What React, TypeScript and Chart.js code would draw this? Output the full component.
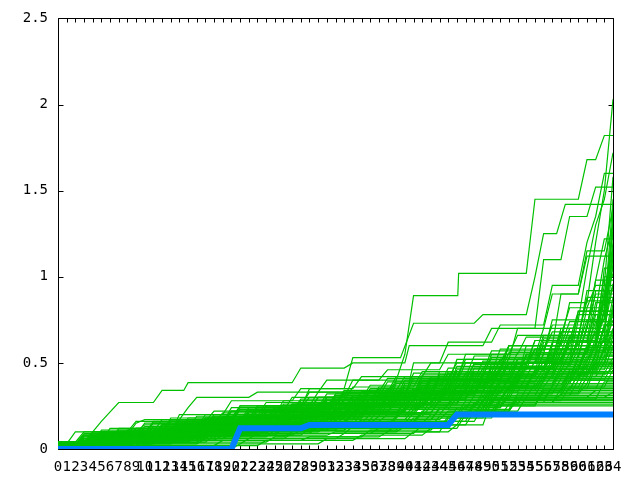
import React, { useEffect, useRef } from "react";
import { Chart, registerables } from "chart.js";

Chart.register(...registerables);

// Each series: flat list of vertices [x, y, x, y, ...]
const blueSeries: number[] = [0, 0, 20, 0, 21, 0.12, 28, 0.12, 29, 0.14, 45, 0.14, 46, 0.2, 64, 0.2];

const peakSeries: number[][] = [
  [0,.03, 3,.03, 4,.1, 8,.1, 9,.16, 17,.16, 18,.22, 26,.22, 27,.3, 33,.3, 34,.4, 39,.4, 40,.55, 41,.89, 46.1,.89, 46.2,1.02, 54,1.02, 55,1.45, 60,1.45, 61,1.68, 62,1.68, 63,1.82, 64,1.82],
  [0,.02, 6,.02, 7,.08, 15,.08, 16,.15, 24,.15, 25,.24, 37,.24, 38,.33, 47,.33, 48,.45, 55,.45, 56,.62, 58,.62, 59,.85, 61,.85, 62,1.2, 63,1.5, 64,2.03],
  [0,.01, 4,.01, 5,.07, 14,.07, 15,.14, 22,.14, 23,.2, 31,.2, 32,.28, 40,.28, 41,.5, 44,.5, 45,.62, 50,.62, 51,.72, 56,.72, 57,.95, 60,.95, 61,1.2, 62,1.35, 63,1.6, 64,1.6],
  [0,.03, 5,.03, 6,.09, 19,.09, 20,.17, 29,.17, 30,.26, 38,.26, 39,.38, 45,.38, 46,.52, 52,.52, 53,.7, 55,.7, 56,1.1, 58,1.1, 59,1.35, 61,1.35, 62,1.52, 64,1.52],
  [0,.02, 2,.02, 3,.06, 11,.06, 12,.13, 21,.13, 22,.21, 30,.21, 31,.3, 41,.3, 42,.42, 49,.42, 50,.55, 56,.55, 57,.75, 60,.75, 61,1.05, 62,1.3, 63,1.45, 64,1.72],
  [0,0, 7,0, 8,.05, 16,.05, 17,.12, 25,.12, 26,.2, 35,.2, 36,.3, 44,.3, 45,.4, 53,.4, 54,.55, 59,.55, 60,.8, 62,.8, 63,1.1, 64,1.3],
  [0,.03, 4,.03, 5,.09, 10,.09, 11,.15, 19,.15, 20,.24, 28,.24, 29,.35, 33,.35, 34,.53, 39.5,.53, 41,.73, 48,.73, 49,.78, 54,.78, 55,1.0, 56,1.25, 57.5,1.25, 58.5,1.42, 64,1.42],
  [0,.01, 9,.01, 10,.06, 18,.06, 19,.14, 27,.14, 28,.2, 36,.2, 37,.3, 43,.3, 44,.45, 51,.45, 52,.6, 57,.6, 58,.9, 60,.9, 61,1.15, 63,1.15, 64,1.4],
  [0,.03, 1,.03, 2,.1, 4,.1, 5,.16, 7,.27, 11,.27, 12,.34, 14.5,.34, 15,.385, 27,.385, 28,.47, 33,.47, 34,.5, 40,.5, 40.5,.6, 49,.6, 50,.7, 56,.7, 57,.9, 60,.9, 61,1.12, 64,1.12],
  [0,.02, 3,.02, 4,.08, 8,.08, 9,.15, 10,.17, 14,.17, 15,.24, 16,.3, 22,.3, 23,.33, 30,.33, 31,.4, 37,.4, 38,.46, 44,.46, 45,.55, 52,.55, 53,.66, 58,.66, 59,.82, 63,.82, 64,1.2],
  [0,.03, 2,.03, 3,.09, 13,.09, 14,.2, 19,.2, 20,.28, 27,.28, 28,.35, 34,.35, 35,.42, 42,.42, 43,.5, 51,.5, 52,.6, 58,.6, 59,.74, 64,.74],
  [0,.02, 5,.02, 6,.09, 14,.09, 15,.16, 24,.16, 25,.23, 33,.23, 34,.31, 42,.31, 43,.4, 51,.4, 52,.5, 58,.5, 59,.65, 62,.65, 63,.95, 64,1.58],
  [0,.03, 4,.03, 5,.1, 11,.1, 12,.17, 20,.17, 21,.25, 29,.25, 30,.33, 38,.33, 39,.42, 47,.42, 48,.54, 55,.54, 56,.7, 61,.7, 62,.98, 63,1.22, 64,1.22],
  [0,.01, 3,.01, 4,.07, 13,.07, 14,.13, 22,.13, 23,.2, 31,.2, 32,.27, 41,.27, 42,.36, 49,.36, 50,.47, 56,.47, 57,.58, 62,.58, 63,.8, 64,1.45],
];

const highSeries: number[][] = [
  [0,.02, 5,.02, 6,.07, 13,.07, 14,.13, 21,.13, 22,.2, 30,.2, 31,.27, 39,.27, 40,.36, 47,.36, 48,.47, 56,.47, 57,.6, 61,.6, 62,.85, 64,.85],
  [0,.01, 3,.01, 4,.05, 12,.05, 13,.11, 24,.11, 25,.19, 33,.19, 34,.28, 42,.28, 43,.4, 52,.4, 53,.52, 59,.52, 60,.75, 63,.75, 64,1.12],
  [0,.03, 6,.03, 7,.1, 16,.1, 17,.18, 26,.18, 27,.26, 36,.26, 37,.35, 45,.35, 46,.46, 54,.46, 55,.58, 60,.58, 61,.82, 62,.95, 64,.95],
  [0,.02, 8,.02, 9,.08, 18,.08, 19,.15, 28,.15, 29,.22, 40,.22, 41,.33, 49,.33, 50,.5, 57,.5, 58,.66, 62,.66, 63,.9, 64,1.25],
  [0,.04, 4,.04, 5,.1, 14,.1, 15,.17, 23,.17, 24,.25, 32,.25, 33,.33, 44,.33, 45,.45, 51,.45, 52,.56, 58,.56, 59,.7, 61,.7, 62,.98, 64,.98],
  [0,.01, 2,.01, 3,.04, 10,.04, 11,.1, 20,.1, 21,.17, 31,.17, 32,.24, 38,.24, 39,.32, 48,.32, 49,.43, 55,.43, 56,.55, 61,.55, 62,.7, 63,.88, 64,1.05],
  [0,.02, 7,.02, 8,.09, 15,.09, 16,.16, 25,.16, 26,.23, 34,.23, 35,.31, 43,.31, 44,.42, 53,.42, 54,.6, 59,.6, 60,.78, 64,.78],
  [0,.03, 5,.03, 6,.08, 11,.08, 12,.14, 19,.14, 20,.22, 29,.22, 30,.3, 41,.3, 42,.4, 50,.4, 51,.52, 57,.52, 58,.68, 63,.68, 64,1.18],
  [0,.02, 9,.02, 10,.07, 17,.07, 18,.13, 27,.13, 28,.21, 37,.21, 38,.3, 46,.3, 47,.41, 56,.41, 57,.53, 60,.53, 61,.72, 62,.9, 64,.9],
  [0,.01, 4,.01, 5,.06, 13,.06, 14,.12, 22,.12, 23,.19, 32,.19, 33,.27, 42,.27, 43,.37, 49,.37, 50,.48, 58,.48, 59,.63, 62,.63, 63,.8, 64,1.32],
  [0,.03, 3,.03, 4,.09, 12,.09, 13,.16, 21,.16, 22,.24, 28,.24, 29,.3, 37,.3, 38,.39, 46,.39, 47,.5, 55,.5, 56,.64, 60,.64, 61,.92, 64,.92],
  [0,.02, 6,.02, 7,.07, 16,.07, 17,.14, 24,.14, 25,.21, 34,.21, 35,.29, 44,.29, 45,.38, 52,.38, 53,.5, 59,.5, 60,.66, 63,.66, 64,1.08],
  [0,0, 5,0, 6,.05, 14,.05, 15,.12, 23,.12, 24,.2, 33,.2, 34,.28, 41,.28, 42,.37, 50,.37, 51,.47, 57,.47, 58,.62, 61,.62, 62,.8, 64,.8],
  [0,.04, 7,.04, 8,.11, 18,.11, 19,.19, 27,.19, 28,.27, 35,.27, 36,.35, 45,.35, 46,.48, 54,.48, 55,.63, 62,.63, 63,.86, 64,1.02],
  [0,.02, 2,.02, 3,.08, 9,.08, 10,.15, 20,.15, 21,.23, 31,.23, 32,.32, 40,.32, 41,.44, 50,.44, 51,.58, 56,.58, 57,.72, 64,.72],
  [0,.01, 8,.01, 9,.06, 17,.06, 18,.11, 26,.11, 27,.18, 35,.18, 36,.26, 45,.26, 46,.36, 54,.36, 55,.46, 60,.46, 61,.6, 63,.6, 64,.84],
];

const upperMidSeries: number[][] = [
  [0,.03, 3,.03, 4,.09, 10,.09, 11,.15, 18,.15, 19,.21, 27,.21, 28,.28, 36,.28, 37,.36, 44,.36, 45,.44, 53,.44, 54,.55, 60,.55, 61,.7, 63,.7, 64,.95],
  [0,.02, 5,.02, 6,.1, 12,.1, 13,.16, 20,.16, 21,.23, 29,.23, 30,.3, 38,.3, 39,.39, 47,.39, 48,.5, 55,.5, 56,.6, 62,.6, 63,.82, 64,1.15],
  [0,.04, 2,.04, 3,.1, 9,.1, 10,.14, 17,.14, 18,.2, 25,.2, 26,.26, 34,.26, 35,.33, 42,.33, 43,.42, 50,.42, 51,.52, 58,.52, 59,.66, 64,.66],
  [0,.01, 4,.01, 5,.08, 11,.08, 12,.13, 19,.13, 20,.19, 26,.19, 27,.25, 35,.25, 36,.34, 45,.34, 46,.45, 52,.45, 53,.56, 61,.56, 62,.78, 64,.78],
  [0,.03, 6,.03, 7,.11, 14,.11, 15,.18, 22,.18, 23,.24, 32,.24, 33,.32, 41,.32, 42,.43, 49,.43, 50,.53, 57,.53, 58,.7, 62,.7, 63,1.0, 64,1.0],
  [0,.02, 3,.02, 4,.07, 11,.07, 12,.14, 21,.14, 22,.22, 30,.22, 31,.29, 39,.29, 40,.38, 48,.38, 49,.47, 56,.47, 57,.62, 63,.62, 64,.88],
  [0,.02, 7,.02, 8,.1, 16,.1, 17,.17, 24,.17, 25,.24, 33,.24, 34,.31, 43,.31, 44,.4, 51,.4, 52,.5, 59,.5, 60,.64, 62,.64, 63,.76, 64,1.28],
  [0,.03, 4,.03, 5,.11, 13,.11, 14,.17, 22,.17, 23,.25, 31,.25, 32,.31, 40,.31, 41,.41, 47,.41, 48,.49, 54,.49, 55,.58, 61,.58, 62,.74, 64,.74],
  [0,.01, 2,.01, 3,.06, 8,.06, 9,.12, 16,.12, 17,.18, 24,.18, 25,.23, 33,.23, 34,.3, 41,.3, 42,.37, 50,.37, 51,.46, 57,.46, 58,.58, 61,.58, 62,.68, 64,.68],
  [0,.04, 5,.04, 6,.12, 15,.12, 16,.19, 23,.19, 24,.27, 32,.27, 33,.34, 39,.34, 40,.42, 46,.42, 47,.52, 55,.52, 56,.66, 60,.66, 61,.86, 64,.86],
  [0,.02, 6,.02, 7,.08, 13,.08, 14,.14, 21,.14, 22,.2, 28,.2, 29,.27, 37,.27, 38,.35, 46,.35, 47,.44, 53,.44, 54,.54, 62,.54, 63,.64, 64,1.38],
  [0,.03, 3,.03, 4,.1, 12,.1, 13,.18, 20,.18, 21,.25, 28,.25, 29,.33, 37,.33, 38,.41, 45,.41, 46,.5, 54,.5, 55,.63, 59,.63, 60,.8, 64,.8],
  [0,.01, 5,.01, 6,.07, 14,.07, 15,.13, 23,.13, 24,.2, 31,.2, 32,.28, 40,.28, 41,.35, 49,.35, 50,.45, 56,.45, 57,.57, 63,.57, 64,.7],
  [0,.02, 4,.02, 5,.09, 10,.09, 11,.16, 19,.16, 20,.22, 27,.22, 28,.29, 35,.29, 36,.37, 44,.37, 45,.47, 51,.47, 52,.6, 60,.6, 61,.75, 63,.75, 64,.96],
  [0,.03, 8,.03, 9,.12, 17,.12, 18,.18, 26,.18, 27,.26, 34,.26, 35,.33, 42,.33, 43,.41, 51,.41, 52,.53, 58,.53, 59,.62, 64,.62],
  [0,.02, 2,.02, 3,.08, 10,.08, 11,.13, 18,.13, 19,.19, 26,.19, 27,.24, 36,.24, 37,.32, 45,.32, 46,.42, 54,.42, 55,.51, 61,.51, 62,.6, 63,.9, 64,1.1],
  [0,.04, 6,.04, 7,.12, 16,.12, 17,.2, 25,.2, 26,.28, 33,.28, 34,.36, 41,.36, 42,.45, 49,.45, 50,.57, 56,.57, 57,.68, 64,.68],
  [0,.01, 3,.01, 4,.06, 11,.06, 12,.11, 20,.11, 21,.18, 30,.18, 31,.26, 38,.26, 39,.34, 47,.34, 48,.43, 55,.43, 56,.56, 62,.56, 63,.72, 64,.72],
  [0,.03, 5,.03, 6,.1, 13,.1, 14,.16, 22,.16, 23,.23, 30,.23, 31,.3, 39,.3, 40,.4, 48,.4, 49,.51, 57,.51, 58,.63, 61,.63, 62,.92, 64,.92],
  [0,.02, 7,.02, 8,.09, 15,.09, 16,.15, 23,.15, 24,.22, 32,.22, 33,.29, 41,.29, 42,.39, 50,.39, 51,.48, 59,.48, 60,.58, 63,.58, 64,.82],
  [0,.02, 4,.02, 5,.1, 12,.1, 13,.17, 20,.17, 21,.24, 30,.24, 31,.32, 38,.32, 39,.4, 46,.4, 47,.55, 53,.55, 54,.65, 60,.65, 61,.88, 64,.88],
  [0,.03, 2,.03, 3,.07, 9,.07, 10,.13, 17,.13, 18,.19, 27,.19, 28,.26, 35,.26, 36,.34, 43,.34, 44,.43, 52,.43, 53,.52, 58,.52, 59,.6, 62,.6, 63,1.05, 64,1.05],
];

const midSeries: number[][] = [
  [0,.02, 4,.02, 5,.06, 11,.06, 12,.1, 19,.1, 20,.16, 29,.16, 30,.22, 38,.22, 39,.29, 47,.29, 48,.37, 57,.37, 58,.46, 62,.46, 63,.58, 64,.58],
  [0,.01, 3,.01, 4,.05, 10,.05, 11,.09, 18,.09, 19,.14, 27,.14, 28,.2, 36,.2, 37,.27, 46,.27, 47,.34, 55,.34, 56,.42, 61,.42, 62,.52, 64,.52],
  [0,.03, 6,.03, 7,.08, 14,.08, 15,.13, 23,.13, 24,.19, 32,.19, 33,.25, 41,.25, 42,.32, 51,.32, 52,.41, 59,.41, 60,.55, 64,.55],
  [0,.02, 2,.02, 3,.07, 9,.07, 10,.12, 17,.12, 18,.17, 26,.17, 27,.23, 35,.23, 36,.3, 44,.3, 45,.38, 53,.38, 54,.47, 61,.47, 62,.62, 64,.62],
  [0,.04, 5,.04, 6,.09, 13,.09, 14,.14, 22,.14, 23,.2, 31,.2, 32,.26, 40,.26, 41,.33, 49,.33, 50,.42, 58,.42, 59,.5, 63,.5, 64,.7],
  [0,.01, 7,.01, 8,.06, 16,.06, 17,.11, 25,.11, 26,.17, 34,.17, 35,.24, 43,.24, 44,.31, 52,.31, 53,.4, 60,.4, 61,.49, 64,.49],
  [0,.02, 3,.02, 4,.08, 12,.08, 13,.13, 21,.13, 22,.18, 30,.18, 31,.25, 39,.25, 40,.31, 48,.31, 49,.4, 56,.4, 57,.5, 62,.5, 63,.66, 64,.66],
  [0,.03, 5,.03, 6,.07, 15,.07, 16,.12, 24,.12, 25,.18, 33,.18, 34,.24, 42,.24, 43,.3, 50,.3, 51,.38, 59,.38, 60,.47, 64,.47],
  [0,.02, 8,.02, 9,.07, 17,.07, 18,.12, 28,.12, 29,.19, 37,.19, 38,.26, 46,.26, 47,.35, 54,.35, 55,.45, 62,.45, 63,.6, 64,.75],
  [0,.01, 2,.01, 3,.05, 11,.05, 12,.1, 20,.1, 21,.15, 29,.15, 30,.21, 39,.21, 40,.28, 49,.28, 50,.36, 57,.36, 58,.44, 63,.44, 64,.53],
  [0,.03, 4,.03, 5,.08, 13,.08, 14,.15, 23,.15, 24,.21, 32,.21, 33,.28, 41,.28, 42,.36, 50,.36, 51,.45, 58,.45, 59,.56, 63,.56, 64,.68],
  [0,.02, 6,.02, 7,.06, 14,.06, 15,.11, 22,.11, 23,.16, 31,.16, 32,.22, 40,.22, 41,.29, 47,.29, 48,.36, 56,.36, 57,.43, 61,.43, 62,.5, 64,.5],
  [0,.04, 3,.04, 4,.1, 12,.1, 13,.16, 21,.16, 22,.22, 31,.22, 32,.29, 40,.29, 41,.35, 49,.35, 50,.43, 57,.43, 58,.52, 64,.52],
  [0,.01, 5,.01, 6,.05, 13,.05, 14,.1, 24,.1, 25,.15, 33,.15, 34,.21, 43,.21, 44,.28, 51,.28, 52,.36, 60,.36, 61,.46, 63,.46, 64,.6],
  [0,.02, 4,.02, 5,.07, 12,.07, 13,.12, 20,.12, 21,.19, 28,.19, 29,.24, 38,.24, 39,.3, 45,.3, 46,.39, 53,.39, 54,.48, 60,.48, 61,.6, 64,.6],
  [0,.03, 7,.03, 8,.09, 15,.09, 16,.14, 26,.14, 27,.2, 34,.2, 35,.27, 44,.27, 45,.34, 52,.34, 53,.43, 61,.43, 62,.56, 64,.56],
  [0,.02, 2,.02, 3,.06, 10,.06, 11,.11, 19,.11, 20,.17, 27,.17, 28,.23, 37,.23, 38,.3, 47,.3, 48,.39, 55,.39, 56,.47, 62,.47, 63,.72, 64,.72],
  [0,.01, 6,.01, 7,.07, 16,.07, 17,.12, 25,.12, 26,.18, 35,.18, 36,.25, 42,.25, 43,.32, 50,.32, 51,.41, 59,.41, 60,.52, 64,.52],
  [0,.03, 4,.03, 5,.09, 11,.09, 12,.14, 21,.14, 22,.2, 29,.2, 30,.26, 38,.26, 39,.33, 48,.33, 49,.42, 55,.42, 56,.51, 61,.51, 62,.64, 64,.64],
  [0,.02, 5,.02, 6,.06, 14,.06, 15,.1, 23,.1, 24,.16, 32,.16, 33,.22, 41,.22, 42,.29, 51,.29, 52,.37, 58,.37, 59,.45, 64,.45],
  [0,.01, 3,.01, 4,.06, 13,.06, 14,.12, 22,.12, 23,.18, 30,.18, 31,.24, 40,.24, 41,.32, 48,.32, 49,.41, 57,.41, 58,.53, 63,.53, 64,.8],
  [0,.04, 8,.04, 9,.1, 17,.1, 18,.16, 26,.16, 27,.23, 36,.23, 37,.29, 45,.29, 46,.37, 54,.37, 55,.46, 60,.46, 61,.57, 64,.57],
  [0,.02, 3,.02, 4,.07, 10,.07, 11,.13, 18,.13, 19,.18, 28,.18, 29,.25, 36,.25, 37,.32, 44,.32, 45,.4, 53,.4, 54,.5, 59,.5, 60,.62, 64,.62],
  [0,.03, 6,.03, 7,.08, 15,.08, 16,.15, 25,.15, 26,.21, 33,.21, 34,.27, 43,.27, 44,.34, 52,.34, 53,.44, 62,.44, 63,.54, 64,.54],
  [0,.01, 5,.01, 6,.06, 12,.06, 13,.1, 21,.1, 22,.15, 30,.15, 31,.2, 39,.2, 40,.27, 49,.27, 50,.35, 58,.35, 59,.46, 62,.46, 63,.58, 64,.58],
  [0,.02, 7,.02, 8,.08, 14,.08, 15,.13, 24,.13, 25,.19, 33,.19, 34,.26, 42,.26, 43,.33, 51,.33, 52,.42, 60,.42, 61,.54, 64,.54],
  [0,.03, 2,.03, 3,.08, 11,.08, 12,.13, 20,.13, 21,.18, 29,.18, 30,.24, 37,.24, 38,.31, 46,.31, 47,.39, 56,.39, 57,.49, 63,.49, 64,.66],
  [0,.02, 4,.02, 5,.06, 13,.06, 14,.11, 22,.11, 23,.17, 31,.17, 32,.23, 41,.23, 42,.3, 49,.3, 50,.38, 57,.38, 58,.48, 64,.48],
  [0,.01, 7,.01, 8,.05, 15,.05, 16,.09, 24,.09, 25,.14, 34,.14, 35,.21, 43,.21, 44,.29, 52,.29, 53,.38, 61,.38, 62,.5, 64,.5],
  [0,.04, 5,.04, 6,.1, 14,.1, 15,.17, 23,.17, 24,.23, 31,.23, 32,.3, 39,.3, 40,.37, 47,.37, 48,.45, 56,.45, 57,.55, 62,.55, 63,.7, 64,.77],
  [0,.02, 3,.02, 4,.07, 12,.07, 13,.12, 23,.12, 24,.18, 32,.18, 33,.25, 42,.25, 43,.31, 50,.31, 51,.39, 59,.39, 60,.49, 64,.49],
  [0,.03, 6,.03, 7,.09, 13,.09, 14,.15, 22,.15, 23,.22, 30,.22, 31,.28, 40,.28, 41,.35, 48,.35, 49,.44, 57,.44, 58,.56, 64,.56],
  [0,.01, 4,.01, 5,.05, 14,.05, 15,.1, 24,.1, 25,.16, 32,.16, 33,.21, 42,.21, 43,.28, 51,.28, 52,.35, 59,.35, 60,.43, 63,.43, 64,.47],
  [0,.02, 5,.02, 6,.08, 16,.08, 17,.14, 25,.14, 26,.2, 35,.2, 36,.27, 44,.27, 45,.36, 52,.36, 53,.45, 60,.45, 61,.59, 64,.59],
  [0,.03, 8,.03, 9,.08, 17,.08, 18,.13, 26,.13, 27,.19, 34,.19, 35,.25, 45,.25, 46,.33, 53,.33, 54,.42, 62,.42, 63,.5, 64,.63],
  [0,.02, 2,.02, 3,.05, 10,.05, 11,.1, 19,.1, 20,.16, 28,.16, 29,.21, 38,.21, 39,.28, 46,.28, 47,.36, 55,.36, 56,.44, 61,.44, 62,.54, 64,.54],
];

const lowSeries: number[][] = [
  [0,0, 20,0, 21,.03, 30,.03, 31,.06, 40,.06, 41,.1, 44,.1, 45,.18, 50,.18, 51,.27, 64,.27],
  [0,.01, 10,.01, 11,.04, 24,.04, 25,.07, 35,.07, 36,.11, 43,.11, 44,.16, 48,.16, 49,.25, 64,.25],
  [0,.01, 6,.01, 7,.04, 15,.04, 16,.07, 26,.07, 27,.1, 38,.1, 39,.14, 46,.14, 47,.22, 52,.22, 53,.29, 64,.29],
  [0,0, 4,0, 5,.03, 13,.03, 14,.06, 22,.06, 23,.09, 33,.09, 34,.13, 43,.13, 44,.19, 49,.19, 50,.3, 61,.3, 62,.34, 64,.34],
  [0,.02, 8,.02, 9,.05, 18,.05, 19,.08, 28,.08, 29,.12, 37,.12, 38,.16, 45,.16, 46,.24, 51,.24, 52,.31, 64,.31],
  [0,.01, 3,.01, 4,.04, 12,.04, 13,.07, 21,.07, 22,.11, 31,.11, 32,.15, 41,.15, 42,.21, 48,.21, 49,.28, 58,.28, 59,.36, 64,.36],
  [0,0, 12,0, 13,.02, 23,.02, 24,.05, 34,.05, 35,.08, 42,.08, 43,.12, 46,.12, 47,.2, 50,.2, 51,.28, 64,.28],
  [0,.02, 5,.02, 6,.05, 14,.05, 15,.09, 24,.09, 25,.13, 34,.13, 35,.17, 43,.17, 44,.23, 52,.23, 53,.32, 60,.32, 61,.38, 64,.38],
  [0,.01, 7,.01, 8,.04, 17,.04, 18,.08, 27,.08, 28,.11, 39,.11, 40,.16, 47,.16, 48,.26, 55,.26, 56,.33, 64,.33],
  [0,.03, 4,.03, 5,.07, 13,.07, 14,.1, 22,.1, 23,.14, 32,.14, 33,.19, 42,.19, 43,.25, 51,.25, 52,.33, 60,.33, 61,.42, 64,.42],
  [0,0, 2,0, 3,.03, 11,.03, 12,.06, 20,.06, 21,.1, 30,.1, 31,.13, 40,.13, 41,.18, 49,.18, 50,.27, 57,.27, 58,.35, 64,.35],
  [0,.02, 9,.02, 10,.06, 19,.06, 20,.1, 29,.1, 30,.14, 38,.14, 39,.19, 47,.19, 48,.27, 56,.27, 57,.37, 64,.37],
  [0,.01, 5,.01, 6,.03, 16,.03, 17,.06, 26,.06, 27,.09, 36,.09, 37,.12, 44,.12, 45,.19, 51,.19, 52,.26, 64,.26],
  [0,.02, 3,.02, 4,.06, 11,.06, 12,.09, 21,.09, 22,.13, 29,.13, 30,.18, 39,.18, 40,.24, 48,.24, 49,.31, 58,.31, 59,.4, 64,.4],
  [0,.01, 8,.01, 9,.05, 16,.05, 17,.09, 25,.09, 26,.12, 35,.12, 36,.17, 44,.17, 45,.22, 53,.22, 54,.3, 64,.3],
  [0,0, 6,0, 7,.02, 18,.02, 19,.05, 28,.05, 29,.07, 37,.07, 38,.1, 45,.1, 46,.14, 49,.14, 50,.28, 64,.28],
  [0,.03, 6,.03, 7,.06, 14,.06, 15,.1, 23,.1, 24,.15, 33,.15, 34,.2, 41,.2, 42,.26, 50,.26, 51,.34, 59,.34, 60,.44, 64,.44],
  [0,.01, 4,.01, 5,.04, 14,.04, 15,.08, 23,.08, 24,.11, 32,.11, 33,.16, 41,.16, 42,.22, 50,.22, 51,.29, 62,.29, 63,.39, 64,.39],
  [0,.02, 10,.02, 11,.05, 20,.05, 21,.08, 31,.08, 32,.1, 39,.1, 40,.13, 45,.13, 46,.2, 48,.2, 49,.27, 64,.27],
  [0,.01, 3,.01, 4,.05, 13,.05, 14,.08, 22,.08, 23,.12, 31,.12, 32,.17, 40,.17, 41,.23, 49,.23, 50,.32, 57,.32, 58,.41, 64,.41],
  [0,.02, 7,.02, 8,.06, 17,.06, 18,.1, 27,.1, 28,.15, 36,.15, 37,.19, 46,.19, 47,.25, 55,.25, 56,.34, 64,.34],
  [0,0, 9,0, 10,.03, 21,.03, 22,.06, 32,.06, 33,.09, 41,.09, 42,.14, 47,.14, 48,.22, 52,.22, 53,.3, 63,.3, 64,.33],
  [0,.01, 5,.01, 6,.05, 12,.05, 13,.08, 20,.08, 21,.12, 28,.12, 29,.16, 37,.16, 38,.2, 46,.2, 47,.28, 55,.28, 56,.35, 62,.35, 63,.45, 64,.45],
  [0,.02, 3,.02, 4,.05, 11,.05, 12,.09, 19,.09, 20,.13, 27,.13, 28,.17, 36,.17, 37,.23, 45,.23, 46,.3, 54,.3, 55,.38, 64,.38],
  [0,0, 6,0, 7,.04, 15,.04, 16,.08, 25,.08, 26,.12, 34,.12, 35,.17, 43,.17, 44,.24, 51,.24, 52,.31, 59,.31, 60,.4, 64,.4],
  [0,.01, 2,.01, 3,.04, 9,.04, 10,.07, 17,.07, 18,.11, 26,.11, 27,.15, 35,.15, 36,.2, 44,.2, 45,.26, 53,.26, 54,.35, 61,.35, 62,.48, 64,.48],
  [0,.02, 4,.02, 5,.06, 13,.06, 14,.1, 23,.1, 24,.14, 31,.14, 32,.19, 40,.19, 41,.25, 48,.25, 49,.33, 58,.33, 59,.42, 64,.42],
  [0,.01, 8,.01, 9,.04, 16,.04, 17,.07, 24,.07, 25,.11, 33,.11, 34,.15, 42,.15, 43,.2, 48,.2, 49,.29, 56,.29, 57,.36, 64,.36],
  [0,.03, 3,.03, 4,.07, 10,.07, 11,.11, 18,.11, 19,.15, 26,.15, 27,.2, 34,.2, 35,.26, 43,.26, 44,.33, 52,.33, 53,.41, 60,.41, 61,.51, 64,.51],
  [0,0, 3,0, 4,.03, 10,.03, 11,.06, 19,.06, 20,.09, 29,.09, 30,.13, 38,.13, 39,.18, 47,.18, 48,.27, 57,.27, 58,.32, 64,.32],
  [0,.02, 6,.02, 7,.06, 14,.06, 15,.09, 22,.09, 23,.13, 30,.13, 31,.18, 39,.18, 40,.23, 47,.23, 48,.31, 55,.31, 56,.4, 63,.4, 64,.5],
  [0,.01, 4,.01, 5,.04, 12,.04, 13,.08, 22,.08, 23,.12, 30,.12, 31,.15, 40,.15, 41,.21, 49,.21, 50,.29, 64,.29],
  [0,.02, 2,.02, 3,.06, 12,.06, 13,.1, 21,.1, 22,.14, 31,.14, 32,.19, 39,.19, 40,.24, 49,.24, 50,.34, 58,.34, 59,.44, 64,.44],
  [0,.03, 7,.03, 8,.07, 16,.07, 17,.12, 25,.12, 26,.16, 33,.16, 34,.21, 41,.21, 42,.27, 50,.27, 51,.36, 63,.36, 64,.46],
];

const GREEN = "#00c000";
const BLUE = "#0080ff";

function toPoints(flat: number[]) {
  const pts: { x: number; y: number }[] = [];
  for (let i = 0; i < flat.length; i += 2) pts.push({ x: flat[i], y: flat[i + 1] });
  return pts;
}

const framePlugin = {
  id: "frame",
  beforeDatasetsDraw(chart: any) {
    const { ctx, chartArea, scales } = chart;
    const { left, right, top, bottom } = chartArea;
    const xs = scales.x;
    const ys = scales.y;
    const L = Math.round(left) + 0.5;
    const R = Math.round(right) + 0.5;
    const T = Math.round(top) + 0.5;
    const B = Math.round(bottom) + 0.5;
    ctx.save();
    ctx.strokeStyle = "#000";
    ctx.lineWidth = 1;
    ctx.beginPath();
    ctx.rect(L, T, R - L, B - T);
    xs.ticks.forEach((_t: any, i: number) => {
      const px = Math.round(xs.getPixelForTick(i)) + 0.5;
      ctx.moveTo(px, B);
      ctx.lineTo(px, B - 4);
      ctx.moveTo(px, T);
      ctx.lineTo(px, T + 4);
    });
    ys.ticks.forEach((_t: any, i: number) => {
      const py = Math.round(ys.getPixelForTick(i)) + 0.5;
      ctx.moveTo(L, py);
      ctx.lineTo(L + 5, py);
      ctx.moveTo(R, py);
      ctx.lineTo(R - 5, py);
    });
    ctx.stroke();
    ctx.restore();
  },
};

export default function App() {
  const ref = useRef<HTMLCanvasElement>(null);
  useEffect(() => {
    document.body.style.margin = "0";
    const canvas = ref.current;
    if (!canvas) return;
    const greens = [...lowSeries, ...midSeries, ...upperMidSeries, ...highSeries, ...peakSeries].map((s) => ({
      data: toPoints(s),
      borderColor: GREEN,
      borderWidth: 1.2,
      pointRadius: 0,
      fill: false,
      tension: 0,
    }));
    const blue = {
      data: toPoints(blueSeries),
      borderColor: BLUE,
      borderWidth: 6,
      borderCapStyle: "square" as const,
      pointRadius: 0,
      fill: false,
      tension: 0,
    };
    const font = { family: "'DejaVu Sans Mono', monospace", size: 14 };
    const chart = new Chart(canvas, {
      type: "line",
      data: { datasets: [blue, ...greens] as any },
      options: {
        animation: false,
        responsive: false,
        events: [],
        layout: { padding: { top: 18, right: 27, left: 0, bottom: 0 } },
        plugins: { legend: { display: false }, tooltip: { enabled: false } },
        scales: {
          x: {
            type: "linear",
            min: 0,
            max: 64,
            offset: false,
            grid: { display: false, drawTicks: false },
            border: { display: false },
            ticks: {
              stepSize: 1,
              autoSkip: false,
              maxRotation: 0,
              minRotation: 0,
              padding: 10,
              color: "#000",
              font,
              callback: (v: any) => String(v),
            },
            afterFit: (s: any) => {
              s.height = 31;
            },
          },
          y: {
            min: 0,
            max: 2.5,
            grid: { display: false, drawTicks: false },
            border: { display: false },
            ticks: {
              stepSize: 0.5,
              padding: 10,
              color: "#000",
              font,
              callback: (v: any) => String(Number(v)),
            },
            afterFit: (s: any) => {
              s.width = 58;
            },
          },
        },
      },
      plugins: [framePlugin],
    });
    return () => chart.destroy();
  }, []);
  return (
    <div style={{ width: 640, height: 480 }}>
      <canvas ref={ref} width={640} height={480} />
    </div>
  );
}
